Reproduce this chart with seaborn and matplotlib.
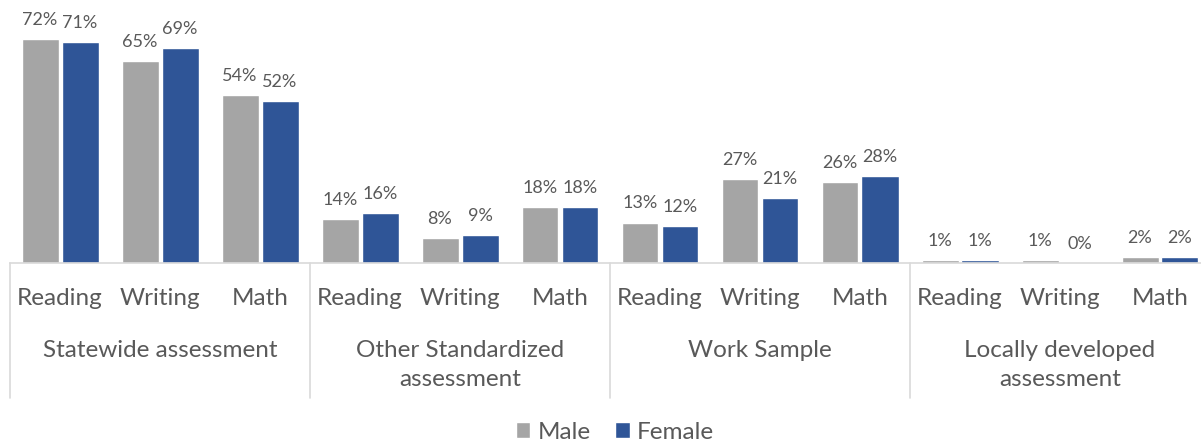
import pandas as pd
import seaborn as sns
from matplotlib import pyplot as plt
from matplotlib.lines import Line2D

# data
groups = ['Statewide assessment', 'Other Standardized\nassessment',
          'Work Sample', 'Locally developed\nassessment']
subjects = ['Reading', 'Writing', 'Math']
male = [72, 65, 54, 14, 8, 18, 13, 27, 26, 1, 1, 2]
female = [71, 69, 52, 16, 9, 18, 12, 21, 28, 1, 0, 2]

grey = '#A5A5A5'
blue = '#2F5597'
text_col = '#595959'

# long-form table for seaborn
slots = [f'{g}|{s}' for g in groups for s in subjects]
df = pd.DataFrame({
    'slot': slots * 2,
    'value': male + female,
    'sex': ['Male'] * len(male) + ['Female'] * len(female),
})

sns.set_style('white')
plt.rcParams['font.family'] = ['Lato', 'DejaVu Sans']

fig = plt.figure(figsize=(12.01, 4.44), dpi=100)
ax = fig.add_axes([10 / 1201, 1 - 263 / 444, 1200 / 1201, 263 / 444])

sns.barplot(data=df, x='slot', y='value', hue='sex', order=slots,
            palette={'Male': grey, 'Female': blue}, width=0.8, gap=0.075,
            saturation=1, ax=ax, legend=True)

for cont in ax.containers:
    ax.bar_label(cont, fmt='%g%%', padding=8, fontsize=13, color=text_col)

ax.set_ylim(0, 84.5)
ax.set_xlim(-0.5, 11.5)
ax.set_xlabel('')
ax.set_ylabel('')
ax.set_yticks([])
ax.set_xticks(range(len(slots)))
ax.set_xticklabels(subjects * len(groups), fontsize=17.5, color=text_col)
ax.tick_params(axis='x', length=0, pad=18)

for side in ['top', 'right', 'left']:
    ax.spines[side].set_visible(False)
ax.spines['bottom'].set_color('#D9D9D9')
ax.spines['bottom'].set_linewidth(1.2)

# group separators and group labels
tr = ax.get_xaxis_transform()
for i in range(len(groups) + 1):
    x = i * 3 - 0.5
    ax.add_line(Line2D([x, x], [0, -135 / 263], transform=tr,
                       color='#D9D9D9', lw=1.2, clip_on=False))
for i, g in enumerate(groups):
    ax.text(i * 3 + 1, -77 / 263, g, transform=tr, ha='center', va='top',
            fontsize=17.5, color=text_col, linespacing=1.45)

# legend at the bottom
handles, labels = ax.get_legend_handles_labels()
ax.legend_.remove()
fig.legend(handles, labels, loc='center',
           bbox_to_anchor=(615 / 1201, 1 - 432 / 444),
           ncol=2, frameon=False, fontsize=17.5, labelcolor=text_col,
           handlelength=0.6, handleheight=0.6, handletextpad=0.3,
           columnspacing=1.0)

plt.savefig('out.png', dpi=100)
